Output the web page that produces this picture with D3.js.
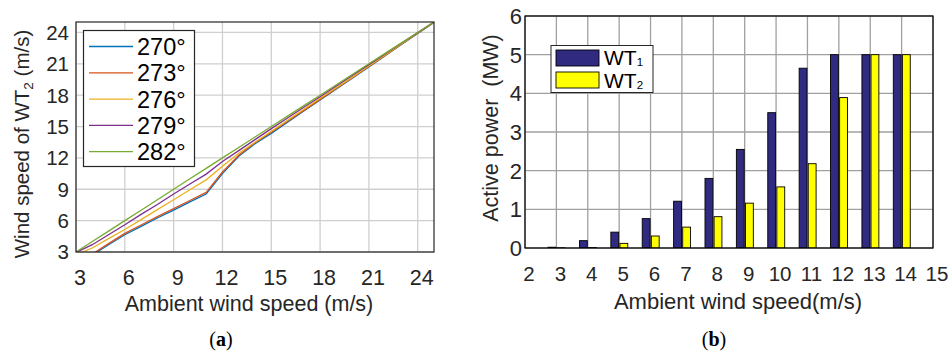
<!DOCTYPE html>
<html>
<head>
<meta charset="utf-8">
<script src="https://cdn.jsdelivr.net/npm/d3@7"></script>
<style>
    body { margin: 0; background: #fff; }
    svg { display: block; font-family: "Liberation Sans", Arial, sans-serif; }
</style>
</head>
<body>
<div id="wrapper"></div>
<script>
// Data (a): wind speed at WT2 vs ambient speed, one series per direction
const windDirections = ["270\u00B0", "273\u00B0", "276\u00B0", "279\u00B0", "282\u00B0"]
const ambientSpeed = [3, 4, 5, 6, 7, 8, 9, 10, 11, 12, 13, 14, 15, 16, 17, 18, 19, 20, 21, 22, 23, 24, 25]
const ws270 = [1.8, 2.7, 3.7, 4.65, 5.45, 6.25, 7.0, 7.8, 8.55, 10.5, 12.15, 13.35, 14.35, 15.42, 16.48, 17.55, 18.6, 19.65, 20.7, 21.78, 22.84, 23.9, 24.95]
const ws273 = [1.9, 2.8, 3.8, 4.78, 5.58, 6.38, 7.15, 7.93, 8.7, 10.65, 12.25, 13.45, 14.45, 15.5, 16.55, 17.6, 18.65, 19.7, 20.75, 21.8, 22.87, 23.93, 24.97]
const ws276 = [2.75, 3.38, 4.28, 5.15, 6.1, 7.05, 8.0, 8.95, 9.9, 11.2, 12.45, 13.5, 14.55, 15.6, 16.65, 17.7, 18.72, 19.75, 20.8, 21.85, 22.9, 23.95, 25.0]
const ws279 = [2.95, 3.7, 4.65, 5.6, 6.6, 7.55, 8.55, 9.5, 10.45, 11.65, 12.7, 13.75, 14.8, 15.82, 16.85, 17.85, 18.88, 19.9, 20.92, 21.95, 22.97, 23.98, 25.0]
const ws282 = [3.0, 4.0, 5.0, 6.0, 7.0, 8.0, 9.0, 10.0, 11.0, 12.0, 13.0, 14.0, 15.0, 16.0, 17.0, 18.0, 19.0, 20.0, 21.0, 22.0, 23.0, 24.0, 25.0]
const leftTicks = [3, 6, 9, 12, 15, 18, 21, 24]

// Data (b): active power per turbine
const barSpeed = [2, 3, 4, 5, 6, 7, 8, 9, 10, 11, 12, 13, 14]
const powerWT1 = [0, 0.02, 0.19, 0.41, 0.76, 1.21, 1.80, 2.55, 3.50, 4.65, 5.0, 5.0, 5.0]
const powerWT2 = [0, 0.005, 0.01, 0.12, 0.31, 0.54, 0.81, 1.16, 1.58, 2.18, 3.89, 5.0, 5.0]
const rightXTicks = [2, 3, 4, 5, 6, 7, 8, 9, 10, 11, 12, 13, 14, 15]
const rightYTicks = [0, 1, 2, 3, 4, 5, 6]

const lineColors = ["#0072bd", "#d95319", "#edb120", "#7e2f8e", "#77ac30"]
const barColors = ["#302a80", "#ffff00"]

const svg = d3.select("#wrapper")
    .append("svg")
        .attr("width", 952)
        .attr("height", 354)

// ---------- Panel (a) ----------
const dimA = { left: 76, top: 22, right: 434, bottom: 252 }

const xA = d3.scaleLinear().domain([3, 25]).range([dimA.left, dimA.right])
const yA = d3.scaleLinear().domain([3, 25]).range([dimA.bottom, dimA.top])

const gA = svg.append("g")

gA.append("clipPath")
    .attr("id", "clipA")
    .append("rect")
        .attr("x", dimA.left)
        .attr("y", dimA.top)
        .attr("width", dimA.right - dimA.left)
        .attr("height", dimA.bottom - dimA.top)

// grid
gA.selectAll(".vgrid")
    .data(leftTicks)
    .join("line")
        .attr("x1", d => xA(d)).attr("x2", d => xA(d))
        .attr("y1", dimA.top).attr("y2", dimA.bottom)
        .attr("stroke", "#cfcfcf")
        .attr("stroke-width", 1.3)
gA.selectAll(".hgrid")
    .data(leftTicks)
    .join("line")
        .attr("y1", d => yA(d)).attr("y2", d => yA(d))
        .attr("x1", dimA.left).attr("x2", dimA.right)
        .attr("stroke", "#cfcfcf")
        .attr("stroke-width", 1.3)

// lines
const seriesA = [ws270, ws273, ws276, ws279, ws282]
const lineGen = d3.line()
    .x((d, i) => xA(ambientSpeed[i]))
    .y(d => yA(d))

gA.append("g")
    .attr("clip-path", "url(#clipA)")
    .selectAll("path")
    .data(seriesA)
    .join("path")
        .attr("d", d => lineGen(d))
        .attr("fill", "none")
        .attr("stroke", (d, i) => lineColors[i])
        .attr("stroke-width", 1.3)

// frame
gA.append("rect")
    .attr("x", dimA.left)
    .attr("y", dimA.top)
    .attr("width", dimA.right - dimA.left)
    .attr("height", dimA.bottom - dimA.top)
    .attr("fill", "none")
    .attr("stroke", "#262626")
    .attr("stroke-width", 1.2)

gA.selectAll(".ytl")
    .data(leftTicks)
    .join("text")
        .attr("x", dimA.left - 7)
        .attr("y", d => yA(d))
        .attr("dy", "0.36em")
        .attr("text-anchor", "end")
        .attr("font-size", 20.5)
        .attr("fill", "#262626")
        .text(d => d)
gA.selectAll(".xtl")
    .data(leftTicks)
    .join("text")
        .attr("x", d => xA(d) + 4)
        .attr("y", 285)
        .attr("text-anchor", "middle")
        .attr("font-size", 21.5)
        .attr("fill", "#262626")
        .text(d => d)

gA.append("text")
    .attr("x", 249)
    .attr("y", 311)
    .attr("text-anchor", "middle")
    .attr("font-size", 21.5)
    .attr("fill", "#262626")
    .text("Ambient wind speed (m/s)")

const yLabelA = gA.append("text")
    .attr("transform", "translate(29,144) rotate(-90)")
    .attr("text-anchor", "middle")
    .attr("font-size", 20.5)
    .attr("fill", "#262626")
yLabelA.append("tspan").text("Wind speed of WT")
yLabelA.append("tspan").attr("font-size", 13.5).attr("dy", 4).text("2")
yLabelA.append("tspan").attr("dy", -4).text(" (m/s)")

// legend (a)
const legA = gA.append("g")
legA.append("rect")
    .attr("x", 83.5).attr("y", 30.5)
    .attr("width", 111).attr("height", 136)
    .attr("fill", "#fff")
    .attr("stroke", "#262626")
    .attr("stroke-width", 1.2)
const legRows = legA.selectAll("g")
    .data(windDirections)
    .join("g")
        .attr("transform", (d, i) => `translate(0, ${46.5 + i * 26.3})`)
legRows.append("line")
    .attr("x1", 89).attr("x2", 133)
    .attr("stroke", (d, i) => lineColors[i])
    .attr("stroke-width", 1.3)
legRows.append("text")
    .attr("x", 137)
    .attr("dy", "0.36em")
    .attr("font-size", 23.5)
    .attr("fill", "#000")
    .text(d => d)

// ---------- Panel (b) ----------
const dimB = { left: 525, top: 16, right: 933, bottom: 248 }

const xB = d3.scaleLinear().domain([2, 15]).range([dimB.left, dimB.right])
const yB = d3.scaleLinear().domain([0, 6]).range([dimB.bottom, dimB.top])

const gB = svg.append("g")

gB.append("clipPath")
    .attr("id", "clipB")
    .append("rect")
        .attr("x", dimB.left)
        .attr("y", dimB.top)
        .attr("width", dimB.right - dimB.left)
        .attr("height", dimB.bottom - dimB.top)

gB.selectAll(".vgrid")
    .data(rightXTicks)
    .join("line")
        .attr("x1", d => xB(d)).attr("x2", d => xB(d))
        .attr("y1", dimB.top).attr("y2", dimB.bottom)
        .attr("stroke", "#a0a0a0")
        .attr("stroke-width", 1.3)
gB.selectAll(".hgrid")
    .data(rightYTicks)
    .join("line")
        .attr("y1", d => yB(d)).attr("y2", d => yB(d))
        .attr("x1", dimB.left).attr("x2", dimB.right)
        .attr("stroke", "#a0a0a0")
        .attr("stroke-width", 1.3)

// bars
const barHalf = 0.125
const bars = gB.append("g").attr("clip-path", "url(#clipB)")
bars.selectAll(".wt1")
    .data(powerWT1)
    .join("rect")
        .attr("x", (d, i) => xB(barSpeed[i] - 0.14 - barHalf))
        .attr("width", xB(2 + 2 * barHalf) - xB(2))
        .attr("y", d => yB(d))
        .attr("height", d => yB(0) - yB(d))
        .attr("fill", barColors[0])
        .attr("stroke", "#000")
        .attr("stroke-width", 0.9)
bars.selectAll(".wt2")
    .data(powerWT2)
    .join("rect")
        .attr("x", (d, i) => xB(barSpeed[i] + 0.15 - barHalf))
        .attr("width", xB(2 + 2 * barHalf) - xB(2))
        .attr("y", d => yB(d))
        .attr("height", d => yB(0) - yB(d))
        .attr("fill", barColors[1])
        .attr("stroke", "#000")
        .attr("stroke-width", 0.9)

gB.append("rect")
    .attr("x", dimB.left)
    .attr("y", dimB.top)
    .attr("width", dimB.right - dimB.left)
    .attr("height", dimB.bottom - dimB.top)
    .attr("fill", "none")
    .attr("stroke", "#000")
    .attr("stroke-width", 1.2)

gB.selectAll(".ytl")
    .data(rightYTicks)
    .join("text")
        .attr("x", dimB.left - 3)
        .attr("y", d => yB(d))
        .attr("dy", "0.36em")
        .attr("text-anchor", "end")
        .attr("font-size", 22)
        .attr("fill", "#262626")
        .text(d => d)
gB.selectAll(".xtl")
    .data(rightXTicks)
    .join("text")
        .attr("x", d => xB(d) + 4)
        .attr("y", 281)
        .attr("text-anchor", "middle")
        .attr("font-size", 20.5)
        .attr("fill", "#262626")
        .text(d => d)

gB.append("text")
    .attr("x", 738)
    .attr("y", 309)
    .attr("text-anchor", "middle")
    .attr("font-size", 22)
    .attr("fill", "#262626")
    .text("Ambient wind speed(m/s)")

gB.append("text")
    .attr("transform", "translate(498,128) rotate(-90)")
    .attr("text-anchor", "middle")
    .attr("font-size", 21.5)
    .attr("fill", "#262626")
    .style("white-space", "pre")
    .text("Active power  (MW)")

// legend (b)
const legB = gB.append("g")
legB.append("rect")
    .attr("x", 551).attr("y", 45.5)
    .attr("width", 102).attr("height", 47)
    .attr("fill", "#fff")
    .attr("stroke", "#262626")
    .attr("stroke-width", 1)
const legBRows = legB.selectAll("g")
    .data(["1", "2"])
    .join("g")
        .attr("transform", (d, i) => `translate(0, ${50 + i * 22})`)
legBRows.append("rect")
    .attr("x", 556).attr("width", 43)
    .attr("height", 16)
    .attr("fill", (d, i) => barColors[i])
    .attr("stroke", "#000")
    .attr("stroke-width", 0.9)
const legBText = legBRows.append("text")
    .attr("x", 604)
    .attr("y", (d, i) => 14.5 + i)
    .attr("font-size", 21)
    .attr("fill", "#000")
legBText.append("tspan").text("WT")
legBText.append("tspan").attr("font-size", 11.5).attr("dy", 1.5).text(d => d)

// captions
const captions = ["a", "b"]
const capX = [221, 714]
captions.forEach((c, i) => {
    const t = svg.append("text")
        .attr("x", capX[i])
        .attr("y", 346)
        .attr("text-anchor", "middle")
        .attr("font-family", "'Liberation Serif', serif")
        .attr("font-size", 20)
        .attr("fill", "#000")
    t.append("tspan").text("(")
    t.append("tspan").attr("font-weight", "bold").text(c)
    t.append("tspan").text(")")
})
</script>
</body>
</html>
